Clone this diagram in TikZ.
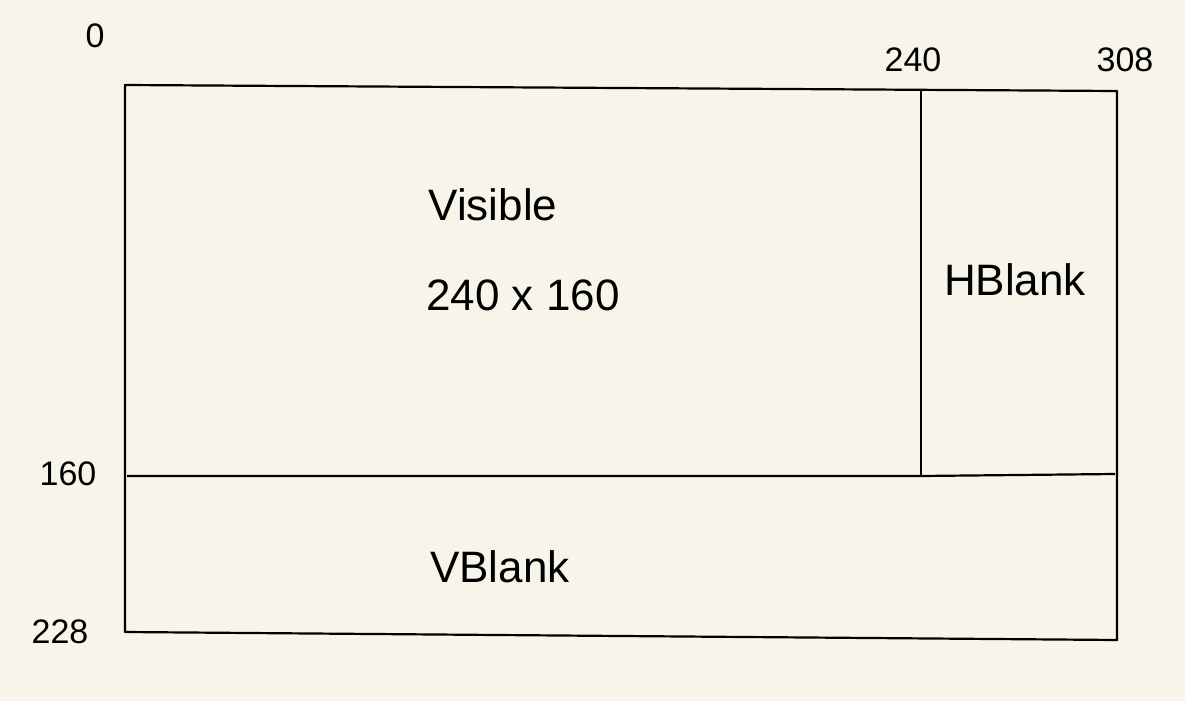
\documentclass[tikz,border=0pt]{standalone}
\usepackage{fontspec}
\setmainfont{Liberation Sans}
\definecolor{paper}{HTML}{F7F5EA}
\tikzset{
  frame/.style={line width=1.1pt, black, line join=round},
  lbl/.style={font=\fontsize{22}{26}\selectfont, inner sep=0pt},
  num/.style={font=\fontsize{17}{20}\selectfont, inner sep=0pt}
}
\begin{document}
\begin{tikzpicture}[x=0.5pt,y=-0.5pt]
  \fill[paper] (0,0) rectangle (1185,701);
  \useasboundingbox (0,0) rectangle (1185,701);
  % corners
  \coordinate (tl) at (125,85);
  \coordinate (tr) at (1117,91);
  \coordinate (br) at (1117,640);
  \coordinate (bl) at (125,632);
  \coordinate (vt) at (921,90);
  \coordinate (vb) at (921,476);
  \coordinate (hl) at (127,476);
  \coordinate (hr) at (1115,474);
  \draw[frame] (tl) -- (tr) -- (br) -- (bl) -- cycle;
  \draw[frame] (vt) -- (vb);
  \draw[frame] (hl) -- (vb) -- (hr);
  % axis labels
  \node[num] (n0) at (95,36) {0};
  \node[num] (n240) at (913,60) {240};
  \node[num] (n308) at (1125,60) {308};
  \node[num] (n160) at (68,474) {160};
  \node[num] (n228) at (60,632) {228};
  % region labels
  \node[lbl] (vis) at (493,205) {Visible};
  \node[lbl] (dim) at (523,295) {240 x 160};
  \node[lbl] (hb) at (1015,280) {HBlank};
  \node[lbl] (vbk) at (500,567) {VBlank};
\end{tikzpicture}
\end{document}
